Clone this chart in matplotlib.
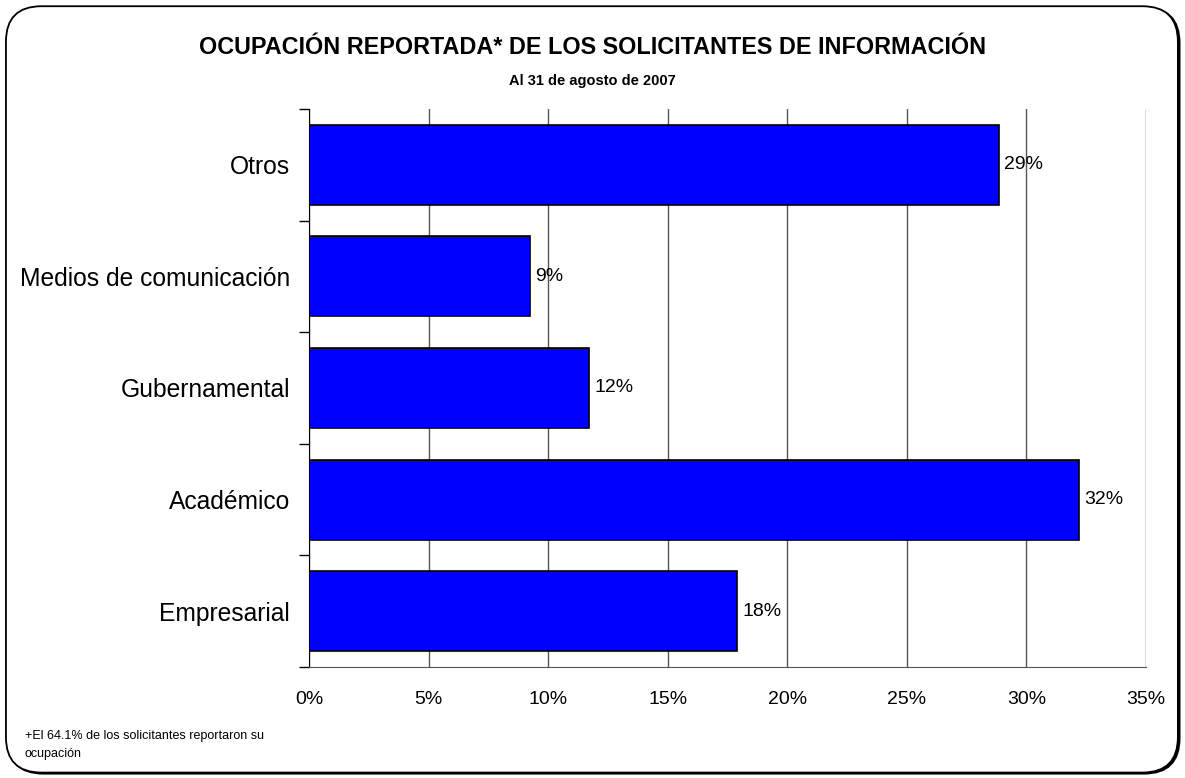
import numpy as np
import matplotlib.pyplot as plt
from matplotlib.patches import FancyBboxPatch
from matplotlib.ticker import FuncFormatter

plt.rcParams['font.family'] = ['Liberation Sans', 'DejaVu Sans']

# Data (bottom to top)
categorias = ['Empresarial', 'Académico', 'Gubernamental',
              'Medios de comunicación', 'Otros']
porcentajes = [17.9, 32.2, 11.7, 9.25, 28.85]
etiquetas = ['18%', '32%', '12%', '9%', '29%']
xticks = [0, 5, 10, 15, 20, 25, 30, 35]

fig = plt.figure(figsize=(11.85, 7.78), dpi=100)

# rounded frame with a small shadow
shadow = FancyBboxPatch((0.0065, 0.0055), 0.989, 0.985,
                        boxstyle='round,pad=0,rounding_size=0.03',
                        transform=fig.transFigure, facecolor='black',
                        edgecolor='black', linewidth=1.2, zorder=-2,
                        mutation_aspect=1185 / 778)
frame = FancyBboxPatch((0.005, 0.007), 0.989, 0.985,
                       boxstyle='round,pad=0,rounding_size=0.03',
                       transform=fig.transFigure, facecolor='white',
                       edgecolor='black', linewidth=1.3, zorder=-1,
                       mutation_aspect=1185 / 778)
fig.patches.extend([shadow, frame])

ax = fig.add_axes([0.2608, 0.1427, 0.7063, 0.7172])
ax.set_facecolor('none')

y = np.arange(len(categorias))
ax.barh(y, porcentajes, height=0.717, color='#0000FF',
        edgecolor='black', linewidth=1.2, zorder=3)

for yi, v, lab in zip(y, porcentajes, etiquetas):
    ax.text(v + 0.22, yi, lab, va='center', ha='left', fontsize=14)

ax.set_xlim(0, 35)
ax.set_ylim(-0.5, len(categorias) - 0.5)
ax.set_xticks(xticks)
ax.xaxis.set_major_formatter(FuncFormatter(lambda v, p: f'{v:.0f}%'))
ax.tick_params(axis='x', length=0, labelsize=14, pad=17)

ax.set_yticks(y)
ax.set_yticklabels(categorias, fontsize=17.75)
ax.set_yticks(np.arange(-0.5, len(categorias), 1), minor=True)
ax.tick_params(axis='y', which='major', length=0, pad=13.7)
ax.tick_params(axis='y', which='minor', length=7, width=1, color='black')

ax.grid(axis='x', color='#555555', linewidth=1, zorder=0)
for s in ['top', 'right']:
    ax.spines[s].set_visible(False)
ax.spines['left'].set_color('black')
ax.spines['bottom'].set_color('#555555')

fig.text(0.5, 0.939, 'OCUPACIÓN REPORTADA* DE LOS SOLICITANTES DE INFORMACIÓN',
         ha='center', va='center', fontsize=16.8, fontweight='bold')
fig.text(0.5, 0.896, 'Al 31 de agosto de 2007',
         ha='center', va='center', fontsize=10.5, fontweight='bold')
fig.text(0.021, 0.042, '+El 64.1% de los solicitantes reportaron su\nocupación',
         ha='left', va='center', fontsize=9, linespacing=1.7)

fig.savefig('out.png', dpi=100)
